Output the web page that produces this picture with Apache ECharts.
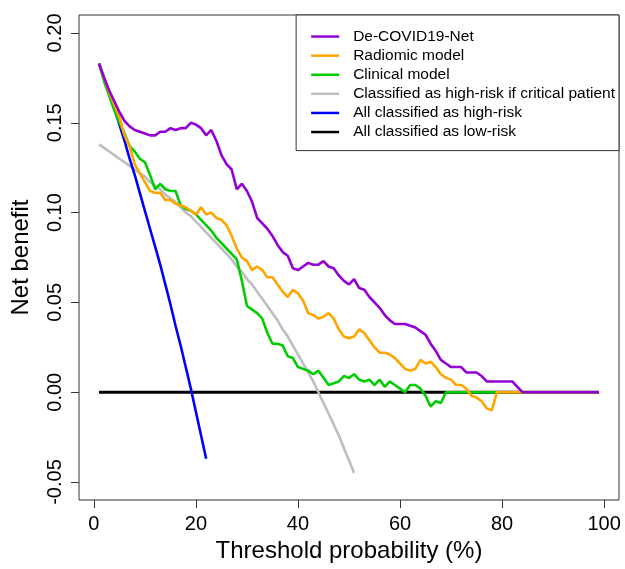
<!DOCTYPE html>
<html>
<head>
<meta charset="utf-8">
<script src="https://cdn.jsdelivr.net/npm/echarts@6/dist/echarts.min.js"></script>
<style>
  html, body { margin: 0; padding: 0; background: #fff; }
  #chart { width: 625px; height: 569px; }
</style>
</head>
<body>
<div id="chart"></div>
<script>
// threshold probabilities (%)
const thresholds = [1,2,3,4,5,6,7,8,9,10,11,12,13,14,15,16,17,18,19,20,21,22,23,24,25,26,27,28,29,30,
  31,32,33,34,35,36,37,38,39,40,41,42,43,44,45,46,47,48,49,50,51,52,53,54,55,56,57,58,59,60,
  61,62,63,64,65,66,67,68,69,70,71,72,73,74,75,76,77,78,79,80,81,82,83,84,85,86,87,88,89,90,
  91,92,93,94,95,96,97,98,99];

// net benefit, one value per threshold starting at 1%
const deCovidNet = [0.183,0.175,0.168,0.162,0.156,0.151,0.148,0.146,0.145,0.144,
  0.143,0.143,0.145,0.145,0.147,0.146,0.147,0.147,0.150,0.149,
  0.147,0.143,0.146,0.140,0.132,0.127,0.124,0.113,0.116,0.112,
  0.106,0.097,0.094,0.091,0.087,0.082,0.078,0.076,0.069,0.068,
  0.070,0.072,0.071,0.071,0.073,0.070,0.069,0.065,0.062,0.060,
  0.063,0.058,0.057,0.053,0.050,0.047,0.043,0.040,0.038,0.038,
  0.038,0.037,0.036,0.034,0.032,0.027,0.023,0.018,0.016,0.014,
  0.014,0.014,0.011,0.011,0.011,0.009,0.006,0.006,0.006,0.006,
  0.006,0.006,0.003,0,0,0,0,0,0,0,0,0,0,0,0,0,0,0,0];

const radiomic = [0.183,0.175,0.167,0.160,0.153,0.143,0.137,0.127,0.122,0.117,
  0.112,0.111,0.111,0.107,0.107,0.105,0.104,0.103,0.101,0.099,
  0.103,0.099,0.100,0.097,0.096,0.093,0.087,0.080,0.075,0.073,
  0.068,0.070,0.068,0.064,0.064,0.060,0.056,0.053,0.057,0.055,
  0.051,0.044,0.043,0.041,0.042,0.044,0.041,0.035,0.031,0.030,
  0.031,0.035,0.033,0.029,0.025,0.022,0.022,0.021,0.019,0.016,
  0.013,0.012,0.013,0.018,0.016,0.017,0.014,0.010,0.008,0.007,
  0.004,0.004,0.002,-0.002,-0.003,-0.005,-0.009,-0.010,0,0,
  0,0,0,0,0,0,0,0,0,0,0,0,0,0,0,0,0,0,0];

const clinical = [0.183,0.173,0.165,0.157,0.150,0.144,0.137,0.134,0.130,0.128,
  0.121,0.113,0.116,0.113,0.112,0.112,0.104,0.102,0.101,0.099,
  0.096,0.093,0.090,0.086,0.083,0.080,0.077,0.074,0.062,0.048,
  0.046,0.044,0.041,0.033,0.027,0.027,0.026,0.020,0.019,0.014,
  0.013,0.012,0.010,0.012,0.008,0.004,0.005,0.006,0.009,0.008,
  0.010,0.007,0.006,0.007,0.004,0.007,0.003,0.006,0.004,0.002,
  0.000,0.004,0.004,0.002,-0.002,-0.008,-0.005,-0.006,0,0,
  0,0,0,0,0,0,0,0,0,0,0,0,0,0,0,0,0,0,0,0,0,0,0,0,0,0,0,0,0];

const highRiskIfCritical = [0.138,0.136,0.134,0.132,0.130,0.128,0.126,0.124,0.122,0.120,
  0.117,0.115,0.113,0.110,0.108,0.106,0.103,0.100,0.098,0.095,
  0.092,0.089,0.086,0.083,0.080,0.077,0.074,0.070,0.067,0.063,
  0.060,0.056,0.052,0.048,0.044,0.040,0.035,0.031,0.026,0.021,
  0.016,0.011,0.006,0.000,-0.006,-0.012,-0.018,-0.024,-0.031,-0.038,
  -0.045];

const allHighRisk = [0.183,0.175,0.166,0.158,0.149,0.140,0.130,0.121,0.111,0.101,
  0.091,0.081,0.071,0.060,0.049,0.037,0.026,0.014,0.002,-0.011,
  -0.024,-0.037];

const lowRiskX = [1, 99];
const allLowRisk = [0, 0];

const seriesNames = ['De-COVID19-Net', 'Radiomic model', 'Clinical model',
  'Classified as high-risk if critical patient', 'All classified as high-risk', 'All classified as low-risk'];

const xTicks = [0, 20, 40, 60, 80, 100];
const yTicks = [-0.05, 0, 0.05, 0.10, 0.15, 0.20];

const pairs = (xs, ys) => ys.map((v, i) => [xs[i], v]);

const font = 'Liberation Sans, Arial, sans-serif';
const chart = echarts.init(document.getElementById('chart'), null, { renderer: 'canvas' });

const mkLine = (name, data, color, width) => ({
  name: name,
  type: 'line',
  data: data,
  showSymbol: false,
  symbol: 'none',
  lineStyle: { color: color, width: width },
  itemStyle: { color: color },
  animation: false
});

const option = {
  backgroundColor: '#fff',
  grid: {
    left: 79, right: 6, top: 15, bottom: 69,
    show: true, borderColor: '#333', borderWidth: 1
  },
  legend: {
    data: seriesNames,
    orient: 'vertical',
    right: 6, top: 15,
    padding: [12, 4, 9, 15],
    itemGap: 0,
    itemWidth: 28,
    itemHeight: 2.5,
    icon: 'rect',
    backgroundColor: '#fff',
    borderColor: '#333',
    borderWidth: 1,
    borderRadius: 0,
    textStyle: {
      fontFamily: font, fontSize: 15.5, color: '#000',
      lineHeight: 19.1, padding: [0, 0, 0, 9]
    }
  },
  xAxis: {
    type: 'value',
    min: -2.92, max: 102.92,
    name: 'Threshold probability (%)',
    nameLocation: 'middle',
    nameGap: 21,
    nameTextStyle: { fontFamily: font, fontSize: 24, color: '#000' },
    axisLine: { show: false, onZero: false },
    splitLine: { show: false },
    axisTick: { show: true, inside: false, length: 8, customValues: xTicks, lineStyle: { color: '#333' } },
    axisLabel: { customValues: xTicks, fontFamily: font, fontSize: 20, color: '#000', margin: 14 }
  },
  yAxis: {
    type: 'value',
    min: -0.06, max: 0.21,
    name: 'Net benefit',
    nameLocation: 'middle',
    nameGap: 46,
    nameTextStyle: { fontFamily: font, fontSize: 24, color: '#000' },
    axisLine: { show: false, onZero: false },
    splitLine: { show: false },
    axisTick: { show: true, inside: false, length: 8, customValues: yTicks, lineStyle: { color: '#333' } },
    axisLabel: {
      customValues: yTicks, rotate: 90, fontFamily: font, fontSize: 20, color: '#000', margin: 14,
      formatter: v => v.toFixed(2)
    }
  },
  series: [
    mkLine(seriesNames[5], pairs(lowRiskX, allLowRisk), '#000000', 3),
    mkLine(seriesNames[3], pairs(thresholds, highRiskIfCritical), '#BEBEBE', 2.6),
    mkLine(seriesNames[4], pairs(thresholds, allHighRisk), '#0000FF', 2.6),
    mkLine(seriesNames[2], pairs(thresholds, clinical), '#00CD00', 2.6),
    mkLine(seriesNames[1], pairs(thresholds, radiomic), '#FFA500', 2.6),
    mkLine(seriesNames[0], pairs(thresholds, deCovidNet), '#9400D3', 2.6)
  ]
};

chart.setOption(option);
</script>
</body>
</html>
